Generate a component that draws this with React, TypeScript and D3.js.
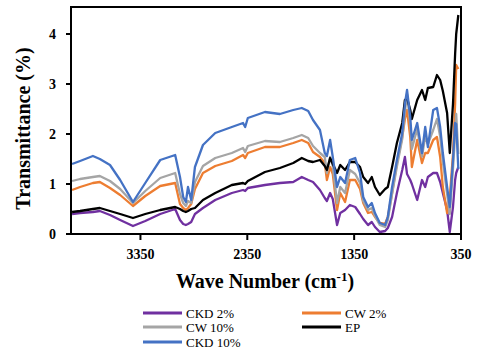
import React from "react";
import * as d3 from "d3";

// wave numbers (cm-1), shared by every series
const waveNumbers = [
  3990, 3915, 3795, 3730, 3635, 3540, 3420, 3305, 3165, 3025, 2980, 2950, 2925,
  2905, 2875, 2840, 2765, 2650, 2495, 2390, 2370, 2345, 2185, 2045, 1920, 1840,
  1780, 1735, 1670, 1625, 1605, 1575, 1550, 1510, 1480, 1435, 1390, 1340, 1295,
  1265, 1220, 1185, 1155, 1110, 1060, 1035, 995, 950, 900, 875, 855, 825, 810,
  760, 715, 685, 660, 610, 575, 545, 520, 480, 455, 425, 405, 395, 375
];

const ckd2 = [
  0.4, 0.42, 0.44, 0.46, 0.38, 0.28, 0.16, 0.26, 0.4, 0.5, 0.28, 0.2, 0.18,
  0.2, 0.24, 0.4, 0.52, 0.68, 0.82, 0.88, 0.86, 0.92, 0.98, 1.02, 1.04, 1.14,
  1.08, 1.04, 0.88, 0.72, 0.66, 0.82, 0.7, 0.18, 0.42, 0.48, 0.58, 0.54, 0.4,
  0.3, 0.18, 0.24, 0.14, 0.04, 0.06, 0.12, 0.34, 0.82, 1.28, 1.54, 1.2, 1.08, 1.0,
  0.68, 1.08, 0.94, 1.14, 1.22, 1.22, 1.04, 0.82, 0.48, 0.04, 0.54, 1.08, 1.22, 1.34
];

const cw2 = [
  0.88, 0.94, 1.02, 1.04, 0.92, 0.78, 0.56, 0.76, 0.96, 1.02, 0.6, 0.52, 0.48,
  0.52, 0.6, 0.9, 1.22, 1.36, 1.46, 1.58, 1.52, 1.62, 1.74, 1.74, 1.82, 1.88,
  1.82, 1.64, 1.54, 1.42, 1.08, 1.34, 1.2, 0.48, 0.82, 0.64, 1.08, 1.08, 0.9,
  0.62, 0.42, 0.44, 0.34, 0.22, 0.2, 0.34, 0.82, 1.42, 1.94, 2.3, 2.48, 1.94, 1.34,
  1.88, 1.42, 1.62, 1.62, 1.88, 1.94, 1.54, 0.94, 0.42, 0.74, 1.6, 2.6, 3.38, 3.3
];

const cw10 = [
  1.06, 1.1, 1.14, 1.16, 1.06, 0.9, 0.62, 0.86, 1.12, 1.22, 0.8, 0.62, 0.56,
  0.66, 0.62, 1.04, 1.36, 1.52, 1.62, 1.72, 1.64, 1.76, 1.86, 1.84, 1.92, 1.98,
  1.92, 1.76, 1.62, 1.54, 1.22, 1.54, 1.36, 0.62, 0.94, 0.82, 1.28, 1.2, 1.02,
  0.66, 0.48, 0.52, 0.36, 0.18, 0.14, 0.28, 0.8, 1.35, 1.9, 2.45, 2.8, 2.2, 1.7,
  2.1, 1.55, 1.95, 1.8, 2.08, 2.3, 1.95, 1.45, 0.8, 0.4, 1.3, 2.0, 2.4, 1.6
];

const ep = [
  0.44, 0.46, 0.5, 0.52, 0.46, 0.4, 0.32, 0.4, 0.48, 0.54, 0.5, 0.46, 0.44,
  0.46, 0.5, 0.52, 0.68, 0.82, 0.98, 1.02, 1.0, 1.06, 1.24, 1.32, 1.42, 1.52,
  1.46, 1.44, 1.48, 1.36, 1.28, 1.52, 1.4, 1.22, 1.38, 1.28, 1.44, 1.44, 1.34,
  1.14, 1.02, 1.14, 0.94, 0.78, 0.9, 0.94, 1.34, 1.82, 2.22, 2.68, 2.72, 2.48, 2.3,
  2.68, 2.88, 2.68, 2.92, 2.94, 3.18, 3.08, 2.86, 2.42, 1.62, 2.6, 3.6, 4.0, 4.38
];

const ckd10 = [
  1.4, 1.46, 1.56, 1.5, 1.38, 1.08, 0.64, 1.02, 1.48, 1.58, 1.14, 0.74, 0.64,
  0.94, 0.68, 1.34, 1.78, 2.02, 2.14, 2.22, 2.14, 2.32, 2.44, 2.4, 2.48, 2.52,
  2.46, 2.28, 2.08, 1.62, 1.56, 1.88, 1.54, 0.94, 1.14, 1.02, 1.48, 1.52, 1.22,
  0.74, 0.54, 0.62, 0.42, 0.22, 0.18, 0.34, 0.94, 1.48, 2.02, 2.6, 2.88, 2.34, 1.88,
  2.22, 1.62, 2.14, 1.74, 2.48, 2.52, 2.14, 1.62, 0.94, 0.54, 1.48, 2.22, 2.2, 1.3
];

const seriesNames = ["CKD 2%", "CW 2%", "CW 10%", "EP", "CKD 10%"];
const seriesValues = [ckd2, cw2, cw10, ep, ckd10];
const seriesColors = ["#7030A0", "#ED7D31", "#A5A5A5", "#000000", "#4472C4"];

const xTicks = [3350, 2350, 1350, 350];
const yTicks = [0, 1, 2, 3, 4];

const width = 480;
const height = 356;
const plot = { left: 71, right: 461, top: 7, bottom: 234 };
const font = "'Liberation Serif', 'Times New Roman', serif";

export default function App() {
  const x = d3.scaleLinear().domain([4000, 350]).range([plot.left, plot.right]);
  const y = d3.scaleLinear().domain([0, 4.54]).range([plot.bottom, plot.top]);

  const line = d3
    .line<number>()
    .x((d, i) => x(waveNumbers[i]))
    .y(d => y(d));

  // legend: two columns, filled row by row
  const legendRows = [313, 327, 342];
  const legendCols = [143, 302];

  return (
    <svg
      width={width}
      height={height}
      style={{ position: "absolute", left: 0, top: 0, background: "#fff" }}
      fontFamily={font}
    >
      {seriesValues.map((vals, i) => (
        <path
          key={seriesNames[i]}
          d={line(vals) || ""}
          fill="none"
          stroke={seriesColors[i]}
          strokeWidth={2.3}
          strokeLinejoin="round"
        />
      ))}

      <rect
        x={plot.left}
        y={plot.top}
        width={plot.right - plot.left}
        height={plot.bottom - plot.top}
        fill="none"
        stroke="#000"
        strokeWidth={2}
      />

      {yTicks.map(t => (
        <g key={t}>
          <line x1={plot.left - 5} x2={plot.left} y1={y(t)} y2={y(t)} stroke="#000" strokeWidth={2} />
          <text x={56} y={y(t) + 5} textAnchor="end" fontSize={14} fontWeight="bold">
            {t}
          </text>
        </g>
      ))}

      {xTicks.map(t => (
        <g key={t}>
          <line x1={x(t)} x2={x(t)} y1={plot.bottom} y2={plot.bottom + 6} stroke="#000" strokeWidth={2} />
          <text x={x(t)} y={259} textAnchor="middle" fontSize={14} fontWeight="bold">
            {t}
          </text>
        </g>
      ))}

      <text
        transform={`translate(30, ${(plot.top + plot.bottom) / 2 + 8}) rotate(-90)`}
        textAnchor="middle"
        fontSize={20}
        fontWeight="bold"
      >
        Transmittance (%)
      </text>

      <text x={265} y={288} textAnchor="middle" fontSize={20} fontWeight="bold">
        Wave Number (cm<tspan dy={-7} fontSize={13}>-1</tspan>
        <tspan dy={7}>)</tspan>
      </text>

      {seriesNames.map((name, i) => {
        const cx = legendCols[i % 2];
        const cy = legendRows[Math.floor(i / 2)];
        return (
          <g key={name}>
            <line x1={cx} x2={cx + 39} y1={cy} y2={cy} stroke={seriesColors[i]} strokeWidth={3} />
            <text x={cx + 43} y={cy + 4.5} fontSize={13}>
              {name}
            </text>
          </g>
        );
      })}
    </svg>
  );
}
